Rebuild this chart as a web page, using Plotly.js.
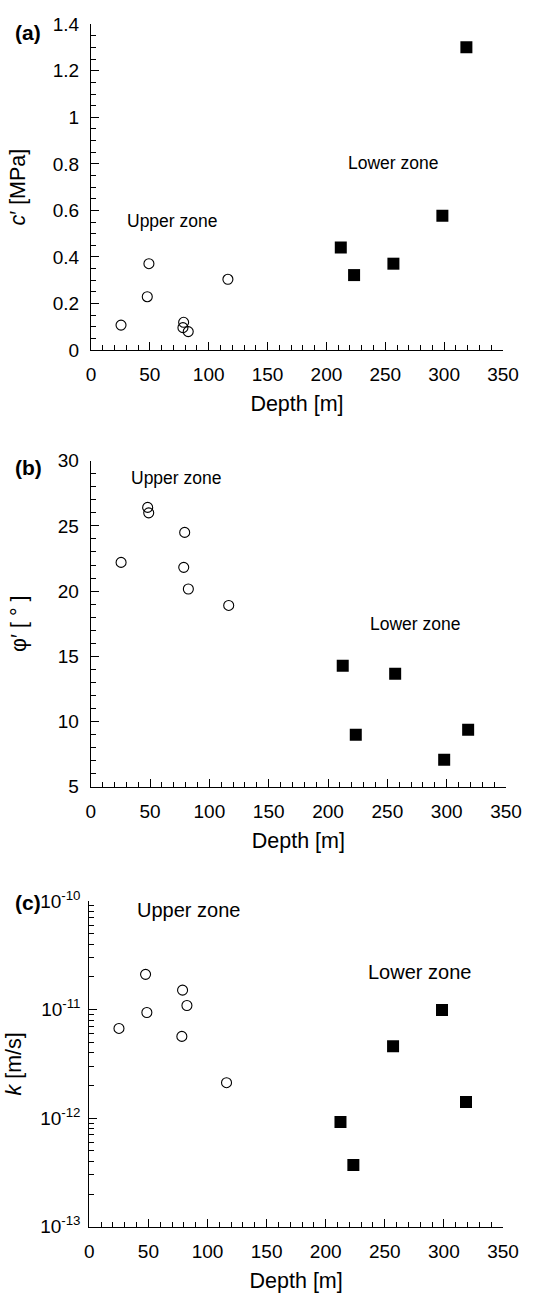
<!DOCTYPE html>
<html><head><meta charset="utf-8">
<script src="https://cdn.plot.ly/plotly-3.0.1.min.js"></script>
<style>html,body{margin:0;padding:0;background:#fff}#chart{width:537px;height:1293px}</style>
</head><body><div id="chart"></div>
<script>
// Panel (a): cohesion c' [MPa]
const upperDepthA = [25.5, 49.2, 47.8, 78.7, 78.1, 82.6, 116.3];
const upperCohesion = [0.107, 0.371, 0.229, 0.119, 0.096, 0.079, 0.304];
const lowerDepthA = [212.2, 223.5, 256.9, 298.5, 318.9];
const lowerCohesion = [0.441, 0.322, 0.371, 0.577, 1.301];
// Panel (b): friction angle phi' [deg]
const upperDepthB = [25.6, 48.0, 48.9, 79.2, 78.4, 82.3, 116.3];
const upperFriction = [22.2, 26.42, 26.0, 24.5, 21.82, 20.16, 18.9];
const lowerDepthB = [212.4, 223.4, 256.6, 297.9, 318.1];
const lowerFriction = [14.28, 8.99, 13.67, 7.07, 9.37];
// Panel (c): permeability k [m/s]
const upperDepthC = [25.1, 47.6, 48.7, 78.9, 82.6, 78.3, 116.1];
const upperPerm = [6.7e-12, 2.11e-11, 9.4e-12, 1.51e-11, 1.09e-11, 5.66e-12, 2.12e-12];
const lowerDepthC = [212.5, 223.4, 257.0, 298.4, 318.7];
const lowerPerm = [9.2e-13, 3.7e-13, 4.6e-12, 9.9e-12, 1.41e-12];
const logTickVals = [1e-13, 1e-12, 1e-11, 1e-10];
const logTickText = ['10<sup>-13</sup>', '10<sup>-12</sup>', '10<sup>-11</sup>', '10<sup>-10</sup>'];

const FONT = 'Arial, "Liberation Sans", sans-serif';
const openC = {symbol: 'circle-open', size: 10, color: '#000', line: {width: 1.1, color: '#000'}};
const sq = {symbol: 'square', size: 12, color: '#000'};

const traces = [
  {x: upperDepthA, y: upperCohesion, xaxis: 'x', yaxis: 'y', mode: 'markers', marker: openC},
  {x: lowerDepthA, y: lowerCohesion, xaxis: 'x', yaxis: 'y', mode: 'markers', marker: sq},
  {x: upperDepthB, y: upperFriction, xaxis: 'x2', yaxis: 'y2', mode: 'markers', marker: openC},
  {x: lowerDepthB, y: lowerFriction, xaxis: 'x2', yaxis: 'y2', mode: 'markers', marker: sq},
  {x: upperDepthC, y: upperPerm, xaxis: 'x3', yaxis: 'y3', mode: 'markers', marker: openC},
  {x: lowerDepthC, y: lowerPerm, xaxis: 'x3', yaxis: 'y3', mode: 'markers', marker: sq}
];

const W = 537, H = 1293;
function xax(anchor, l, r) {
  return {anchor: anchor, domain: [l / W, r / W], range: [0, 350], dtick: 50, tick0: 0,
    showline: true, linecolor: '#000', linewidth: 1, mirror: false, showgrid: false, zeroline: false,
    ticks: 'inside', ticklen: 8, tickwidth: 1, tickcolor: '#000',
    minor: {dtick: 10, ticks: 'inside', ticklen: 5, tickwidth: 1, tickcolor: '#000', showgrid: false},
    tickfont: {family: FONT, size: 19, color: '#000'}, ticklabelstandoff: 7,
    title: {text: 'Depth [m]', font: {family: FONT, size: 21.5, color: '#000'}, standoff: 12}};
}
function yax(anchor, top, bot) {
  return {anchor: anchor, domain: [1 - bot / H, 1 - top / H],
    showline: true, linecolor: '#000', linewidth: 1, showgrid: false, zeroline: false,
    ticks: 'inside', ticklen: 8, tickwidth: 1, tickcolor: '#000',
    tickfont: {family: FONT, size: 19, color: '#000'}, ticklabelstandoff: 7};
}
const ya = yax('x', 24.3, 350);
Object.assign(ya, {range: [0, 1.4], dtick: 0.2, tick0: 0,
  minor: {dtick: 0.05, ticks: 'inside', ticklen: 5, tickwidth: 1, tickcolor: '#000', showgrid: false},
  title: {text: '<i>c</i>′ [MPa]', font: {family: FONT, size: 21.5, color: '#000'}, standoff: 21}});
const yb = yax('x2', 460.7, 786.7);
Object.assign(yb, {range: [5, 30], dtick: 5, tick0: 0,
  minor: {dtick: 1, ticks: 'inside', ticklen: 5, tickwidth: 1, tickcolor: '#000', showgrid: false},
  title: {text: 'φ′ [ ° ]', font: {family: FONT, size: 21.5, color: '#000'}, standoff: 25}});
const yc = yax('x3', 901, 1226.7);
Object.assign(yc, {type: 'log', range: [-13, -10], tickmode: 'array', tickvals: logTickVals, ticktext: logTickText,
  ticklabelstandoff: 4,
  minor: {dtick: 'D1', ticks: 'inside', ticklen: 5, tickwidth: 1, tickcolor: '#000', showgrid: false},
  title: {text: '<i>k</i> [m/s]', font: {family: FONT, size: 21.5, color: '#000'}, standoff: 12}});

function note(text, xref, yref, x, y, size) {
  return {text: text, xref: xref, yref: yref, x: x, y: y, showarrow: false,
    font: {family: FONT, size: size, color: '#000'}, xanchor: 'center', yanchor: 'middle'};
}
function plabel(text, ypx) {
  return {text: '<b>' + text + '</b>', xref: 'paper', yref: 'paper', x: 28 / W, y: 1 - ypx / H,
    showarrow: false, font: {family: FONT, size: 21, color: '#000'}, xanchor: 'center', yanchor: 'middle'};
}

const layout = {
  width: W, height: H, margin: {l: 0, r: 0, t: 0, b: 0},
  paper_bgcolor: '#fff', plot_bgcolor: '#fff', showlegend: false,
  font: {family: FONT, color: '#000'},
  xaxis: xax('y', 91, 503), yaxis: ya,
  xaxis2: xax('y2', 90.7, 506), yaxis2: yb,
  xaxis3: xax('y3', 89.3, 503), yaxis3: yc,
  annotations: [
    note('Upper zone', 'x', 'y', 68.8, 0.555, 17.5),
    note('Lower zone', 'x', 'y', 256.2, 0.803, 17.5),
    note('Upper zone', 'x2', 'y2', 71.7, 28.7, 17.5),
    note('Lower zone', 'x2', 'y2', 273.3, 17.45, 17.5),
    note('Upper zone', 'x3', 'y3', 83.7, -10.083, 20),
    note('Lower zone', 'x3', 'y3', 279.3, -10.657, 20),
    plabel('(a)', 32), plabel('(b)', 467), plabel('(c)', 902)
  ]
};
Plotly.newPlot('chart', traces, layout, {displayModeBar: false, staticPlot: true});
</script></body></html>
